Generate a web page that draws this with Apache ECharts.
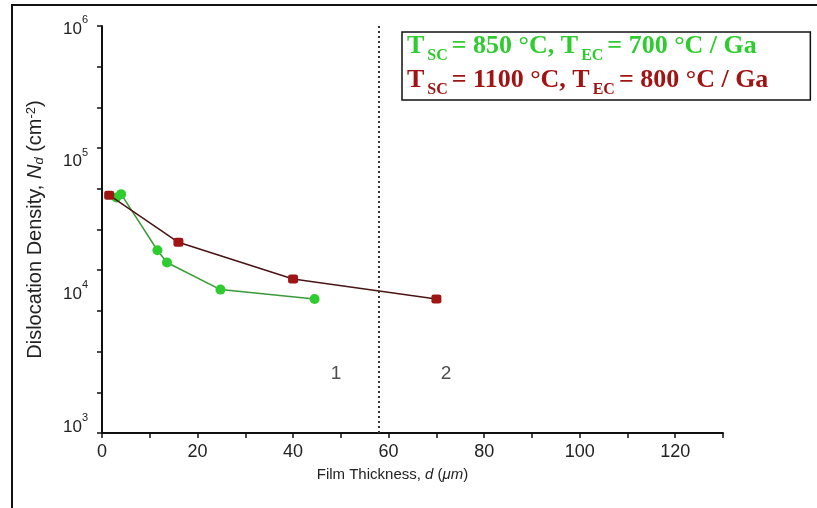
<!DOCTYPE html>
<html><head><meta charset="utf-8">
<script src="https://cdn.jsdelivr.net/npm/echarts@6/dist/echarts.min.js"></script>
<style>html,body{margin:0;padding:0;background:#fff}#c{width:817px;height:508px}</style>
</head><body><div id="c"></div>
<script>
// ---- data ----
const seriesNames = ['TSC = 850 °C, TEC = 700 °C / Ga', 'TSC = 1100 °C, TEC = 800 °C / Ga'];
const greenX = [3, 4, 11.6, 13.6, 24.8, 44.5];
const greenY = [51000, 54000, 20400, 16500, 10300, 8750];
const redX = [1.5, 16, 40, 70];
const redY = [53000, 23400, 12400, 8750];
const xTickLabels = [0, 20, 40, 60, 80, 100, 120];
const yTickLabels = [1000, 10000, 100000, 1000000];
const regionX = [49, 72];
const regionY = [2380, 2380];
const regionText = ['1', '2'];
const boundaryX = 58;

const GREEN = '#2ecc2e', RED = '#a01414';
const supMap = {1000: '3', 10000: '4', 100000: '5', 1000000: '6'};

const chart = echarts.init(document.getElementById('c'));
const serif = 'Liberation Serif, Times New Roman, serif';
const sans = 'Liberation Sans, Arial, sans-serif';
function legendRich(c) {
  return {
    fontFamily: serif, fontWeight: 'bold', fontSize: 26, color: c,
    lineHeight: 26, verticalAlign: 'bottom', padding: [0, 0, 5, 0]
  };
}
function subRich(c) {
  return { fontFamily: serif, fontWeight: 'bold', fontSize: 16, color: c, lineHeight: 16, verticalAlign: 'bottom', padding: [0, 4, 0, 3] };
}
chart.setOption({
  backgroundColor: '#fff',
  animation: false,
  grid: { left: 102, right: 94, top: 26, bottom: 75, containLabel: false },
  graphic: [{
    type: 'rect', shape: { x: 12, y: 5, width: 820, height: 520 },
    style: { fill: 'none', stroke: '#111', lineWidth: 2 }, silent: true, z: 0
  }],
  legend: {
    left: 402, top: 32, orient: 'vertical', icon: 'none', itemWidth: 0, itemHeight: 10,
    itemGap: 3, padding: [1, 42, 2, 0], borderColor: '#111', borderWidth: 1.5,
    backgroundColor: '#fff',
    data: [{ name: seriesNames[0] }, { name: seriesNames[1] }],
    formatter: function (name) {
      const p = name === seriesNames[0] ? 'g' : 'r';
      const v = name === seriesNames[0] ? ['850', '700'] : ['1100', '800'];
      return '{' + p + 'T|T}{' + p + 's|SC}{' + p + 'T|= ' + v[0] + ' °C, T}{' + p + 's|EC}{' + p + 'T|= ' + v[1] + ' °C / Ga}';
    },
    textStyle: {
      rich: { gT: legendRich(GREEN), gs: subRich(GREEN), rT: legendRich(RED), rs: subRich(RED) }
    }
  },
  xAxis: {
    type: 'value', min: 0, max: 130, interval: 10,
    name: '{n|Film Thickness, }{i|d}{n| (}{i|μm}{n|)}',
    nameLocation: 'middle', nameGap: 34,
    nameTextStyle: {
      padding: [0, 40, 0, 0],
      rich: {
        n: { fontFamily: sans, fontSize: 15, color: '#222' },
        i: { fontFamily: sans, fontSize: 15, color: '#222', fontStyle: 'italic' }
      }
    },
    axisLine: { lineStyle: { color: '#111', width: 2 } },
    axisTick: { length: 5, lineStyle: { color: '#111', width: 1.5 } },
    axisLabel: {
      margin: 10, fontFamily: sans, fontSize: 18, color: '#222',
      formatter: v => xTickLabels.indexOf(v) >= 0 ? String(v) : ''
    },
    splitLine: { show: false }
  },
  yAxis: [{
    type: 'log', min: 855, max: 1000000, logBase: 10,
    name: '{n|Dislocation Density, }{i|N}{s|d}{n| (cm}{u|-2}{n|)}',
    nameLocation: 'middle', nameGap: 56, nameRotate: 90,
    nameTextStyle: {
      rich: {
        n: { fontFamily: sans, fontSize: 20, color: '#222' },
        i: { fontFamily: sans, fontSize: 20, color: '#222', fontStyle: 'italic' },
        s: { fontFamily: sans, fontSize: 13, color: '#222', fontStyle: 'italic', verticalAlign: 'bottom', padding: [8, 0, 0, 0] },
        u: { fontFamily: sans, fontSize: 13, color: '#222', verticalAlign: 'top', padding: [0, 0, 8, 0] }
      }
    },
    axisLine: { show: true, lineStyle: { color: '#111', width: 2 } },
    axisTick: { show: false },
    axisLabel: {
      margin: 14, color: '#222',
      formatter: function (v) {
        const k = yTickLabels.find(t => Math.abs(t - v) / t < 1e-6);
        return k ? '{b|10}{s|' + supMap[k] + '}' : '';
      },
      rich: {
        b: { fontFamily: sans, fontSize: 17, color: '#222', padding: [6, 0, 0, 0] },
        s: { fontFamily: sans, fontSize: 11, color: '#222', verticalAlign: 'top', padding: [0, 0, 8, 0] }
      }
    },
    splitLine: { show: false }
  }, {
    type: 'value', min: 0, max: 10, interval: 1, position: 'left', offset: 0,
    axisLine: { show: false },
    axisTick: { show: true, length: 5, lineStyle: { color: '#111', width: 1.5 } },
    axisLabel: { show: false },
    splitLine: { show: false }
  }],
  series: [{
    name: seriesNames[0], type: 'line', yAxisIndex: 0,
    data: greenX.map((x, i) => [x, greenY[i]]),
    symbol: 'circle', symbolSize: 10,
    itemStyle: { color: GREEN },
    lineStyle: { color: '#3a9a3a', width: 1.5 },
    z: 3
  }, {
    name: seriesNames[1], type: 'line', yAxisIndex: 0,
    data: redX.map((x, i) => [x, redY[i]]),
    symbol: 'roundRect', symbolSize: [10, 9],
    itemStyle: { color: RED },
    lineStyle: { color: '#4a1414', width: 1.5 },
    z: 4,
    markLine: {
      silent: true, symbol: 'none', label: { show: false },
      lineStyle: { color: '#333', type: [2, 3], width: 2 },
      data: [{ xAxis: boundaryX }]
    }
  }, {
    name: 'regions', type: 'scatter', yAxisIndex: 0, symbolSize: 0,
    data: regionX.map((x, i) => [x, regionY[i], regionText[i]]),
    label: {
      show: true, position: 'inside', formatter: p => p.data[2],
      fontFamily: sans, fontSize: 19, color: '#222'
    }
  }]
});
</script></body></html>
